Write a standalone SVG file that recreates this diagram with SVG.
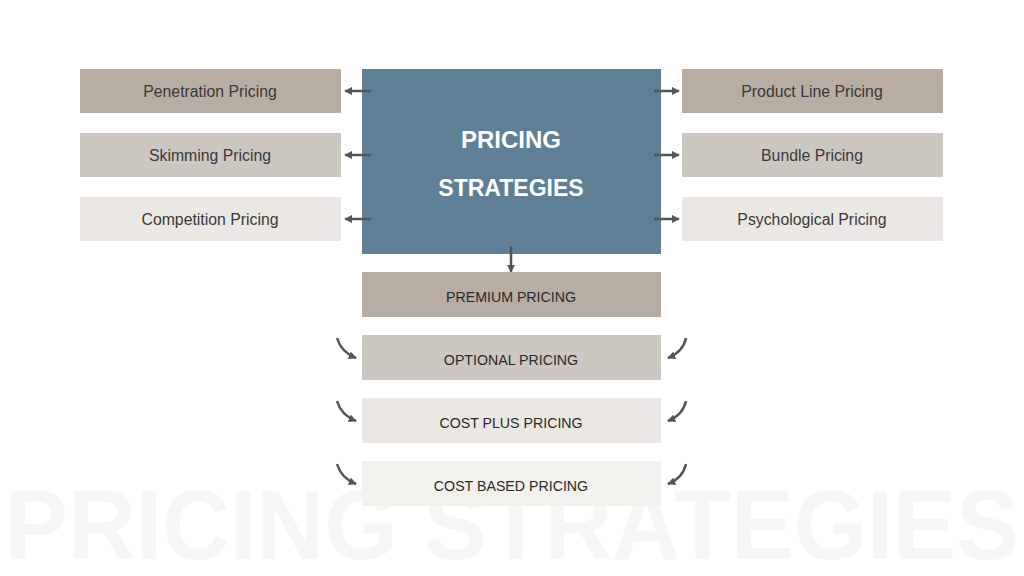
<svg xmlns="http://www.w3.org/2000/svg" width="1024" height="576" viewBox="0 0 1024 576">
<defs>
<style>
.lbl{font-family:"Liberation Sans",Arial,sans-serif;font-size:15.8px;fill:#3a3a3a;text-anchor:middle}
.cap{font-family:"Liberation Sans",Arial,sans-serif;font-size:14.2px;fill:#2a2a2a;text-anchor:middle}
.c1{fill:#b8ada3}.c2{fill:#cdc7c2}.c3{fill:#ebe8e4}.c4{fill:#f2f1ec}
.arr{stroke:#555;stroke-width:2.5;fill:none}
</style>
<marker id="ah" viewBox="0 0 10 10" refX="9" refY="5" markerWidth="3.2" markerHeight="3.2" orient="auto" markerUnits="strokeWidth">
<path d="M0,0 L10,5 L0,10 Z" fill="#555"/>
</marker>
</defs>
<rect width="1024" height="576" fill="#ffffff"/>
<text x="512" y="559" font-family="'Liberation Sans',Arial,sans-serif" font-weight="bold" font-size="98" fill="#f6f6f4" text-anchor="middle" textLength="1014" lengthAdjust="spacingAndGlyphs">PRICING STRATEGIES</text>

<g id="center">
<rect x="362" y="69" width="299" height="185" fill="#5f7f97"/>
<text x="511" y="148" font-family="'Liberation Sans',Arial,sans-serif" font-weight="bold" font-size="24" fill="#ffffff" text-anchor="middle">PRICING</text>
<text x="511" y="196" font-family="'Liberation Sans',Arial,sans-serif" font-weight="bold" font-size="23" fill="#ffffff" text-anchor="middle">STRATEGIES</text>
</g>
<g id="penetration"><rect class="c1" x="80" y="69" width="261" height="44"/><text class="lbl" x="210" y="97">Penetration Pricing</text></g>
<g id="skimming"><rect class="c2" x="80" y="133" width="261" height="44"/><text class="lbl" x="210" y="161">Skimming Pricing</text></g>
<g id="competition"><rect class="c3" x="80" y="197" width="261" height="44"/><text class="lbl" x="210" y="225">Competition Pricing</text></g>
<g id="productline"><rect class="c1" x="682" y="69" width="261" height="44"/><text class="lbl" x="812" y="97">Product Line Pricing</text></g>
<g id="bundle"><rect class="c2" x="682" y="133" width="261" height="44"/><text class="lbl" x="812" y="161">Bundle Pricing</text></g>
<g id="psychological"><rect class="c3" x="682" y="197" width="261" height="44"/><text class="lbl" x="812" y="225">Psychological Pricing</text></g>
<g id="premium"><rect class="c1" x="362" y="272" width="299" height="45"/><text class="cap" x="511" y="302">PREMIUM PRICING</text></g>
<g id="optional"><rect class="c2" x="362" y="335" width="299" height="45"/><text class="cap" x="511" y="365">OPTIONAL PRICING</text></g>
<g id="costplus"><rect class="c3" x="362" y="398" width="299" height="45"/><text class="cap" x="511" y="428">COST PLUS PRICING</text></g>
<g id="costbased"><rect class="c4" x="362" y="461" width="299" height="45"/><text class="cap" x="511" y="491">COST BASED PRICING</text></g>

<g id="connectors">
<line class="arr" x1="371" y1="91" x2="345" y2="91" marker-end="url(#ah)"/>
<line class="arr" x1="371" y1="155" x2="345" y2="155" marker-end="url(#ah)"/>
<line class="arr" x1="371" y1="219" x2="345" y2="219" marker-end="url(#ah)"/>
<line class="arr" x1="654" y1="91" x2="679" y2="91" marker-end="url(#ah)"/>
<line class="arr" x1="654" y1="155" x2="679" y2="155" marker-end="url(#ah)"/>
<line class="arr" x1="654" y1="219" x2="679" y2="219" marker-end="url(#ah)"/>
<line class="arr" x1="511" y1="246" x2="511" y2="272" marker-end="url(#ah)"/>
<path class="arr" d="M337,338 Q341,352 356,358" marker-end="url(#ah)"/>
<path class="arr" d="M337,401 Q341,415 356,421" marker-end="url(#ah)"/>
<path class="arr" d="M337,464 Q341,478 356,484" marker-end="url(#ah)"/>
<path class="arr" d="M686,338 Q683,352 668,358" marker-end="url(#ah)"/>
<path class="arr" d="M686,401 Q683,415 668,421" marker-end="url(#ah)"/>
<path class="arr" d="M686,464 Q683,478 668,484" marker-end="url(#ah)"/>
</g>
</svg>
